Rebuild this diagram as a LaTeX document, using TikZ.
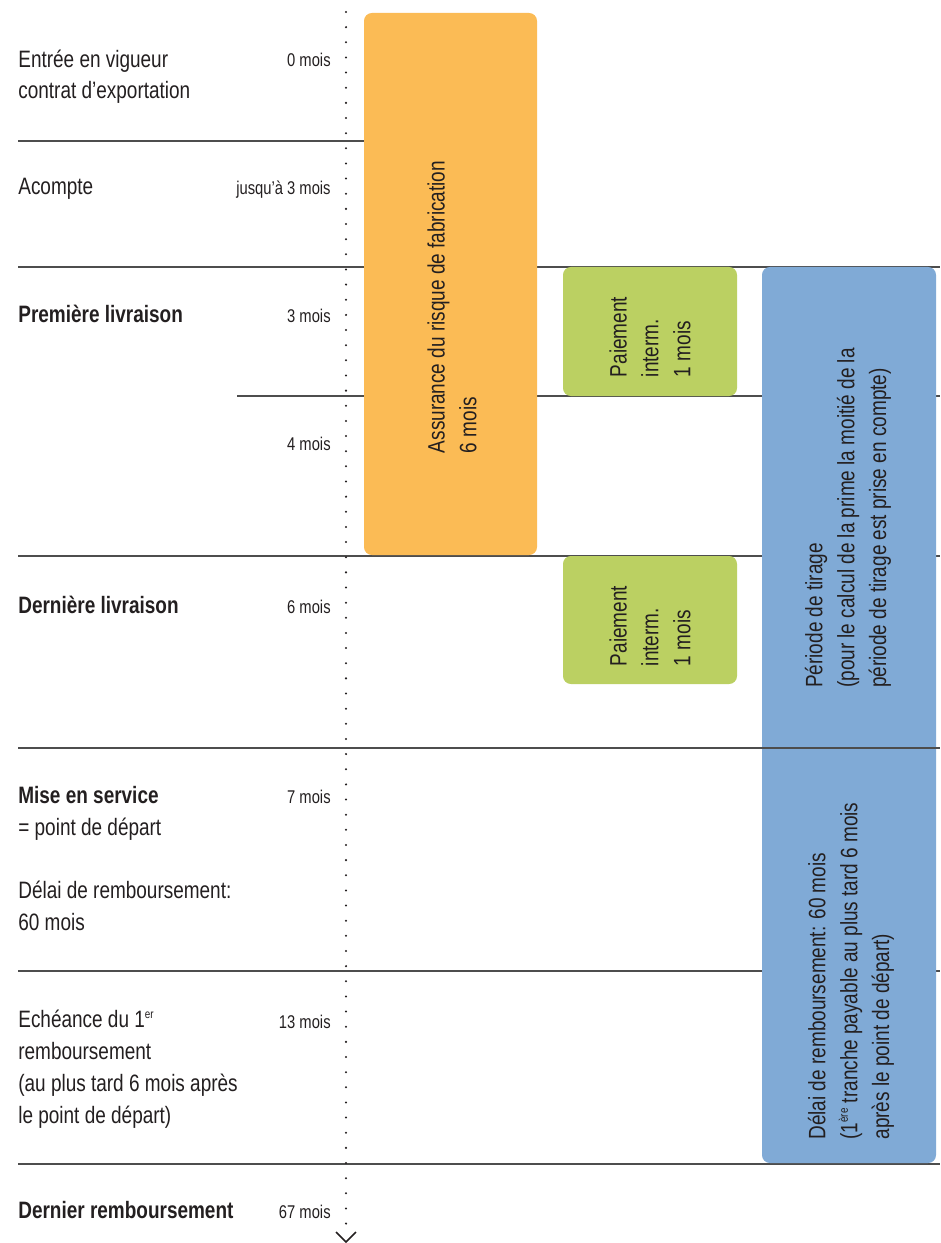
\documentclass[tikz,border=0pt]{standalone}
\usepackage{fontspec}
\setmainfont[FakeStretch=0.8]{Liberation Sans}
\definecolor{ink}{HTML}{231F20}
\definecolor{rulegray}{HTML}{4D4D4D}
\definecolor{orangebar}{HTML}{FBBB55}
\definecolor{greenbar}{HTML}{BBD062}
\definecolor{bluebar}{HTML}{80AAD6}
\tikzset{
  lbl/.style={anchor=base west, align=left, inner sep=0pt, font=\fontsize{13.5}{18.1}\selectfont},
  moislbl/.style={anchor=base east, inner sep=0pt, font=\fontsize{10.5}{12}\selectfont},
  bar/.style={rounded corners=4.5pt},
  bartext/.style={rotate=90, align=left, inner sep=0pt, font=\fontsize{13.5}{18.1}\selectfont},
  sep/.style={rulegray, line width=0.85pt},
}
\newcommand{\supsmall}[1]{\raisebox{0.75ex}{\fontsize{7}{8}\selectfont #1}}
\begin{document}
\begin{tikzpicture}[x=0.02cm, y=-0.02cm, color=ink]
  \useasboundingbox (0,0) rectangle (940,1243);
  % separating rules
  \draw[sep] (18,141) -- (364,141);
  \foreach \y in {267,556,971,1164}
    \draw[sep] (18,\y) -- (940,\y);
  \draw[sep] (237,396) -- (940,396);
  % time axis
  \draw[line width=1.3pt, line cap=round, dash pattern=on 0pt off 8.62pt] (346,12) -- (346,1227);
  \draw[line width=0.9pt] (336,1232) -- (346,1242) -- (356,1232);
  % bars
  \fill[orangebar, bar] (364,13) rectangle (537,555);
  \fill[greenbar, bar] (563,267) rectangle (737,396);
  \fill[greenbar, bar] (563,556) rectangle (737,684);
  \fill[bluebar, bar] (762,267) rectangle (936,1163);
  \draw[sep] (740,748) -- (940,748);
  \draw[sep] (18,748) -- (762,748);
  % bar texts
  \node[bartext] (fab) at (452,307) {Assurance du risque de fabrication\\6 mois};
  \node[bartext] (pay1) at (650,337) {Paiement\\interm.\\1 mois};
  \node[bartext] (pay2) at (650,626) {Paiement\\interm.\\1 mois};
  \node[bartext] (tirage) at (848,518) {Période de tirage\\(pour le calcul de la prime la moitié de la\\période de tirage est prise en compte)};
  \node[bartext] (delai) at (851,971) {Délai de remboursement: 60 mois\\(1\supsmall{ère} tranche payable au plus tard 6 mois\\après le point de départ)};
  % events (base = last line)
  \node[lbl] (entree) at (18,99) {Entrée en vigueur\\contrat d’exportation};
  \node[lbl] (acompte) at (18,195) {Acompte};
  \node[lbl] (prem) at (18,322) {\bfseries Première livraison};
  \node[lbl] (dern) at (18,613) {\bfseries Dernière livraison};
  \node[lbl] (mise) at (18,930) {\textbf{Mise en service}\\= point de départ\\[17.6pt]Délai de remboursement:\\60 mois};
  \node[lbl] (echeance) at (18,1123) {Echéance du 1\supsmall{er}\\remboursement\\(au plus tard 6 mois après\\le point de départ)};
  \node[lbl] (dernremb) at (18,1218) {\bfseries Dernier remboursement};
  % months
  \node[moislbl] (m0) at (331,67) {0 mois};
  \node[moislbl] (m3a) at (331,195) {jusqu’à 3 mois};
  \node[moislbl] (m3) at (331,322) {3 mois};
  \node[moislbl] (m4) at (331,450) {4 mois};
  \node[moislbl] (m6) at (331,613) {6 mois};
  \node[moislbl] (m7) at (331,803) {7 mois};
  \node[moislbl] (m13) at (331,1028) {13 mois};
  \node[moislbl] (m67) at (331,1218) {67 mois};
\end{tikzpicture}
\end{document}
